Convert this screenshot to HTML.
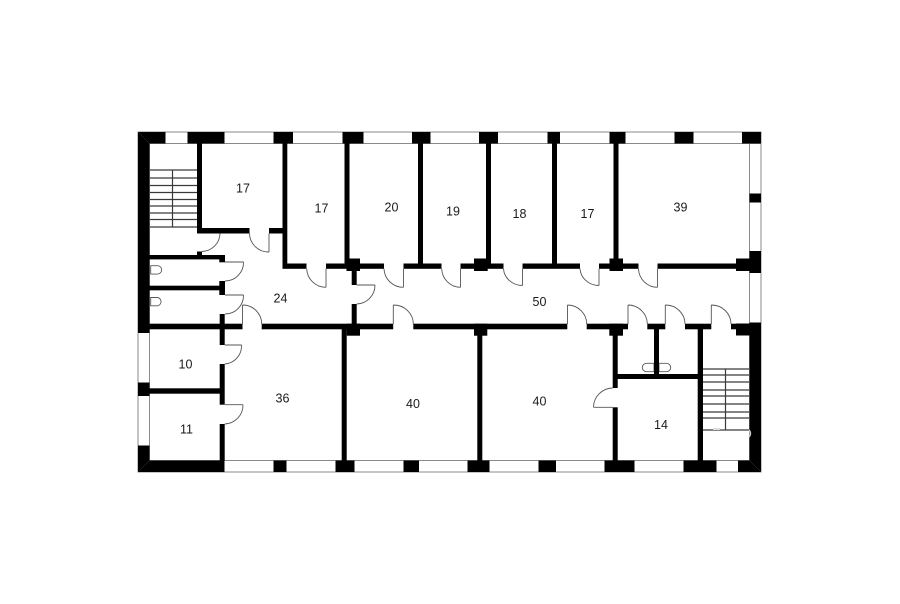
<!DOCTYPE html>
<html>
<head>
<meta charset="utf-8">
<style>
html,body{margin:0;padding:0;background:#fff;width:900px;height:604px;overflow:hidden}
svg{display:block}
text{font-family:"Liberation Sans",sans-serif;font-size:12.5px;fill:#1a1a1a;text-anchor:middle}
</style>
</head>
<body>
<svg width="900" height="604" viewBox="0 0 900 604" xmlns="http://www.w3.org/2000/svg">
<rect width="900" height="604" fill="#fff"/>
<!-- window outlines -->
<g fill="none" stroke="#8a8a8a" stroke-width="1">
<rect x="138" y="132" width="623" height="340"/>
<path d="M138 143.500H761M138 460.500H761M149.500 132V472M749.500 132V472"/>
</g>
<rect x="150" y="144" width="599" height="316" fill="#fff"/>
<!-- stairs -->
<g stroke="#3a3a3a" stroke-width="1.200" fill="none">
<path d="M150 170H197M150 178H197M150 185.500H197M150 192.500H197M150 199.500H197M150 206H197M150 213H197M150 219.500H197M150 227H197M172.500 170V227"/>
<path d="M703 369H749M703 375H749M703 382H749M703 390H749M703 396H749M703 404H749M703 412H749M703 418H749M703 430H749M725.500 369V430"/>
</g>
<!-- toilets -->
<g fill="#fff" stroke="#555" stroke-width="0.9">
<path d="M150.700 265.700H157.500A4.200 4.200 0 0 1 157.500 274.100H150.700Z"/>
<path d="M150.700 297.500H157.500A4.200 4.200 0 0 1 157.500 305.800H150.700Z"/>
<path d="M654 363.300H646.500A4.200 4.200 0 0 0 646.500 371.700H654Z"/>
<path d="M659 363.300H666.500A4.200 4.200 0 0 1 666.500 371.700H659Z"/>
</g>
<g fill="#000">
<!-- top piers -->
<rect x="138" y="132" width="27.500" height="11.500"/>
<rect x="187.500" y="132" width="37" height="11.500"/>
<rect x="273.500" y="132" width="19.500" height="11.500"/>
<rect x="342.500" y="132" width="21" height="11.500"/>
<rect x="412" y="132" width="18.500" height="11.500"/>
<rect x="479" y="132" width="19" height="11.500"/>
<rect x="547.500" y="132" width="12.500" height="11.500"/>
<rect x="609.500" y="132" width="16" height="11.500"/>
<rect x="674.500" y="132" width="19" height="11.500"/>
<rect x="742" y="132" width="19" height="11.500"/>
<!-- bottom piers -->
<rect x="138" y="460.500" width="86.500" height="11.500"/>
<rect x="273.500" y="460.500" width="13" height="11.500"/>
<rect x="335.500" y="460.500" width="19" height="11.500"/>
<rect x="403.500" y="460.500" width="15.500" height="11.500"/>
<rect x="467.500" y="460.500" width="22" height="11.500"/>
<rect x="538.500" y="460.500" width="17.500" height="11.500"/>
<rect x="604.500" y="460.500" width="30" height="11.500"/>
<rect x="683.500" y="460.500" width="33" height="11.500"/>
<rect x="738" y="460.500" width="23" height="11.500"/>
<!-- left wall -->
<rect x="138" y="132" width="11.500" height="201"/>
<rect x="138" y="382.500" width="11.500" height="13.500"/>
<rect x="138" y="445.500" width="11.500" height="26.500"/>
<!-- right wall -->
<rect x="749.500" y="193.500" width="11.500" height="9"/>
<rect x="749.500" y="251" width="11.500" height="22"/>
<rect x="736" y="258.500" width="14" height="12.500"/>
<rect x="749.500" y="322.500" width="11.500" height="149.500"/>
<rect x="736" y="323.500" width="14" height="12"/>
<!-- upper-left room -->
<rect x="197" y="143" width="5" height="90.500"/>
<rect x="197" y="228" width="52.500" height="5.500"/>
<rect x="269" y="228" width="18" height="5.500"/>
<rect x="197" y="251.500" width="5" height="4"/>
<!-- upper corridor wall -->
<rect x="282.500" y="143" width="4.800" height="125.500"/>
<rect x="282.500" y="263.500" width="24" height="5.300"/>
<rect x="326" y="263.500" width="58" height="5.300"/>
<rect x="403.500" y="263.500" width="38" height="5.300"/>
<rect x="460.500" y="263.500" width="43" height="5.300"/>
<rect x="522.500" y="263.500" width="57.500" height="5.300"/>
<rect x="599" y="263.500" width="39.500" height="5.300"/>
<rect x="657.500" y="263.500" width="79" height="5.300"/>
<rect x="344.500" y="143" width="5" height="121"/>
<rect x="418" y="143" width="5" height="121"/>
<rect x="486" y="143" width="5" height="121"/>
<rect x="552" y="143" width="5" height="121"/>
<rect x="613.500" y="143" width="5" height="121"/>
<rect x="346.500" y="258.500" width="13.500" height="12.500"/>
<rect x="474" y="258.500" width="13.700" height="12.500"/>
<rect x="609.500" y="258.500" width="13.500" height="12.500"/>
<rect x="351.700" y="271" width="5" height="14"/>
<rect x="351.700" y="304" width="5" height="21"/>
<!-- lower corridor wall -->
<rect x="149" y="323.700" width="93.500" height="5.600"/>
<rect x="261.700" y="323.700" width="131.500" height="5.600"/>
<rect x="413.300" y="323.700" width="154" height="5.600"/>
<rect x="586.700" y="323.700" width="41.300" height="5.600"/>
<rect x="647.300" y="323.700" width="18" height="5.600"/>
<rect x="685" y="323.700" width="26.300" height="5.600"/>
<rect x="731" y="323.700" width="18.500" height="5.600"/>
<rect x="346.700" y="323.700" width="13.300" height="12"/>
<rect x="474" y="323.700" width="13.300" height="12"/>
<rect x="609.300" y="323.700" width="13.700" height="12"/>
<!-- lower partitions -->
<rect x="341.700" y="329" width="5" height="131.500"/>
<rect x="477.300" y="329" width="5" height="131.500"/>
<rect x="612.700" y="335" width="5" height="53"/>
<rect x="612.700" y="407.300" width="5" height="53.200"/>
<rect x="654" y="329" width="5" height="50"/>
<rect x="617" y="374" width="81" height="5"/>
<rect x="697.700" y="329" width="5.300" height="131.500"/>
<!-- WC block and left rooms -->
<rect x="149" y="255" width="71" height="4.400"/>
<rect x="219.300" y="255" width="5.700" height="7.300"/>
<rect x="149" y="285.700" width="71" height="4.600"/>
<rect x="219.300" y="281" width="5.700" height="14"/>
<rect x="219.700" y="314" width="5" height="31"/>
<rect x="219.700" y="364" width="5" height="40.700"/>
<rect x="219.700" y="424" width="5" height="36.500"/>
<rect x="149" y="388.300" width="71" height="5.400"/>
</g>
<!-- corner diagonals -->
<g stroke="#3c3c3c" stroke-width="0.5">
<path d="M138 132L149.500 143.500M138 472L149.500 460.500M761 472L749.500 460.500"/>
</g>
<!-- stair landing blemish -->
<path d="M749 430A5 5 0 0 1 749 437" fill="none" stroke="#ccc" stroke-width="1.500"/>
<path d="M713 429H720" stroke="#ddd" stroke-width="2"/>
<!-- doors -->
<g fill="none" stroke="#555" stroke-width="0.9">
<path d="M220 233.500A18.500 18.500 0 0 1 202 251.500"/>
<path d="M269 233.500V252M249.500 233.500A19 19 0 0 0 269 252"/>
<path d="M225 262H243.500M243.500 262A18.500 18.500 0 0 1 225 281"/>
<path d="M225 295H243.500M243.500 295A18.500 18.500 0 0 1 225 314"/>
<path d="M224.700 345H241.500M241.500 345A18 18 0 0 1 224.700 364"/>
<path d="M224.700 404.700H243M243 404.700A19 19 0 0 1 224.700 424"/>
<path d="M242.500 324V305M242.500 305A19 19 0 0 1 261.700 324"/>
<path d="M326 268.800V287.300M306.700 268.800A19.300 19.300 0 0 0 326 287.300"/>
<path d="M403.500 268.800V287.300M384 268.800A19.300 19.300 0 0 0 403.500 287.300"/>
<path d="M460.500 268.800V287.300M441.700 268.800A19 19 0 0 0 460.500 287.300"/>
<path d="M522.500 268.800V285.500M503.500 268.800A19 18 0 0 0 522.500 285.500"/>
<path d="M599 268.800V285.500M580 268.800A19 18 0 0 0 599 285.500"/>
<path d="M657.500 268.800V287.300M638.500 268.800A19 19 0 0 0 657.500 287.300"/>
<path d="M356.700 285H375M375 285A18.500 19 0 0 1 356.700 304"/>
<path d="M393.300 324V305M393.300 305A19.500 19 0 0 1 413.300 324"/>
<path d="M567.500 324V305M567.500 305A19.500 19 0 0 1 586.700 324"/>
<path d="M628 324V305M628 305A19.500 19 0 0 1 647.300 324"/>
<path d="M665.300 324V305M665.300 305A19.500 19 0 0 1 685 324"/>
<path d="M711.300 324V305M711.300 305A19.500 19 0 0 1 731 324"/>
<path d="M593.500 407.300H612.700M593.500 407.300A19.500 19.500 0 0 1 612.700 388"/>
</g>
<!-- labels -->
<text x="243" y="192.500">17</text>
<text x="321.500" y="212.500">17</text>
<text x="391.500" y="211.500">20</text>
<text x="453" y="215.500">19</text>
<text x="519.500" y="218">18</text>
<text x="587.500" y="218">17</text>
<text x="680.500" y="211.500">39</text>
<text x="280.500" y="302.500">24</text>
<text x="539.500" y="306">50</text>
<text x="185.500" y="368.500">10</text>
<text x="282.500" y="402.500">36</text>
<text x="186.500" y="433.500">11</text>
<text x="413" y="408">40</text>
<text x="539.500" y="405.500">40</text>
<text x="661" y="429">14</text>
</svg>
</body>
</html>
